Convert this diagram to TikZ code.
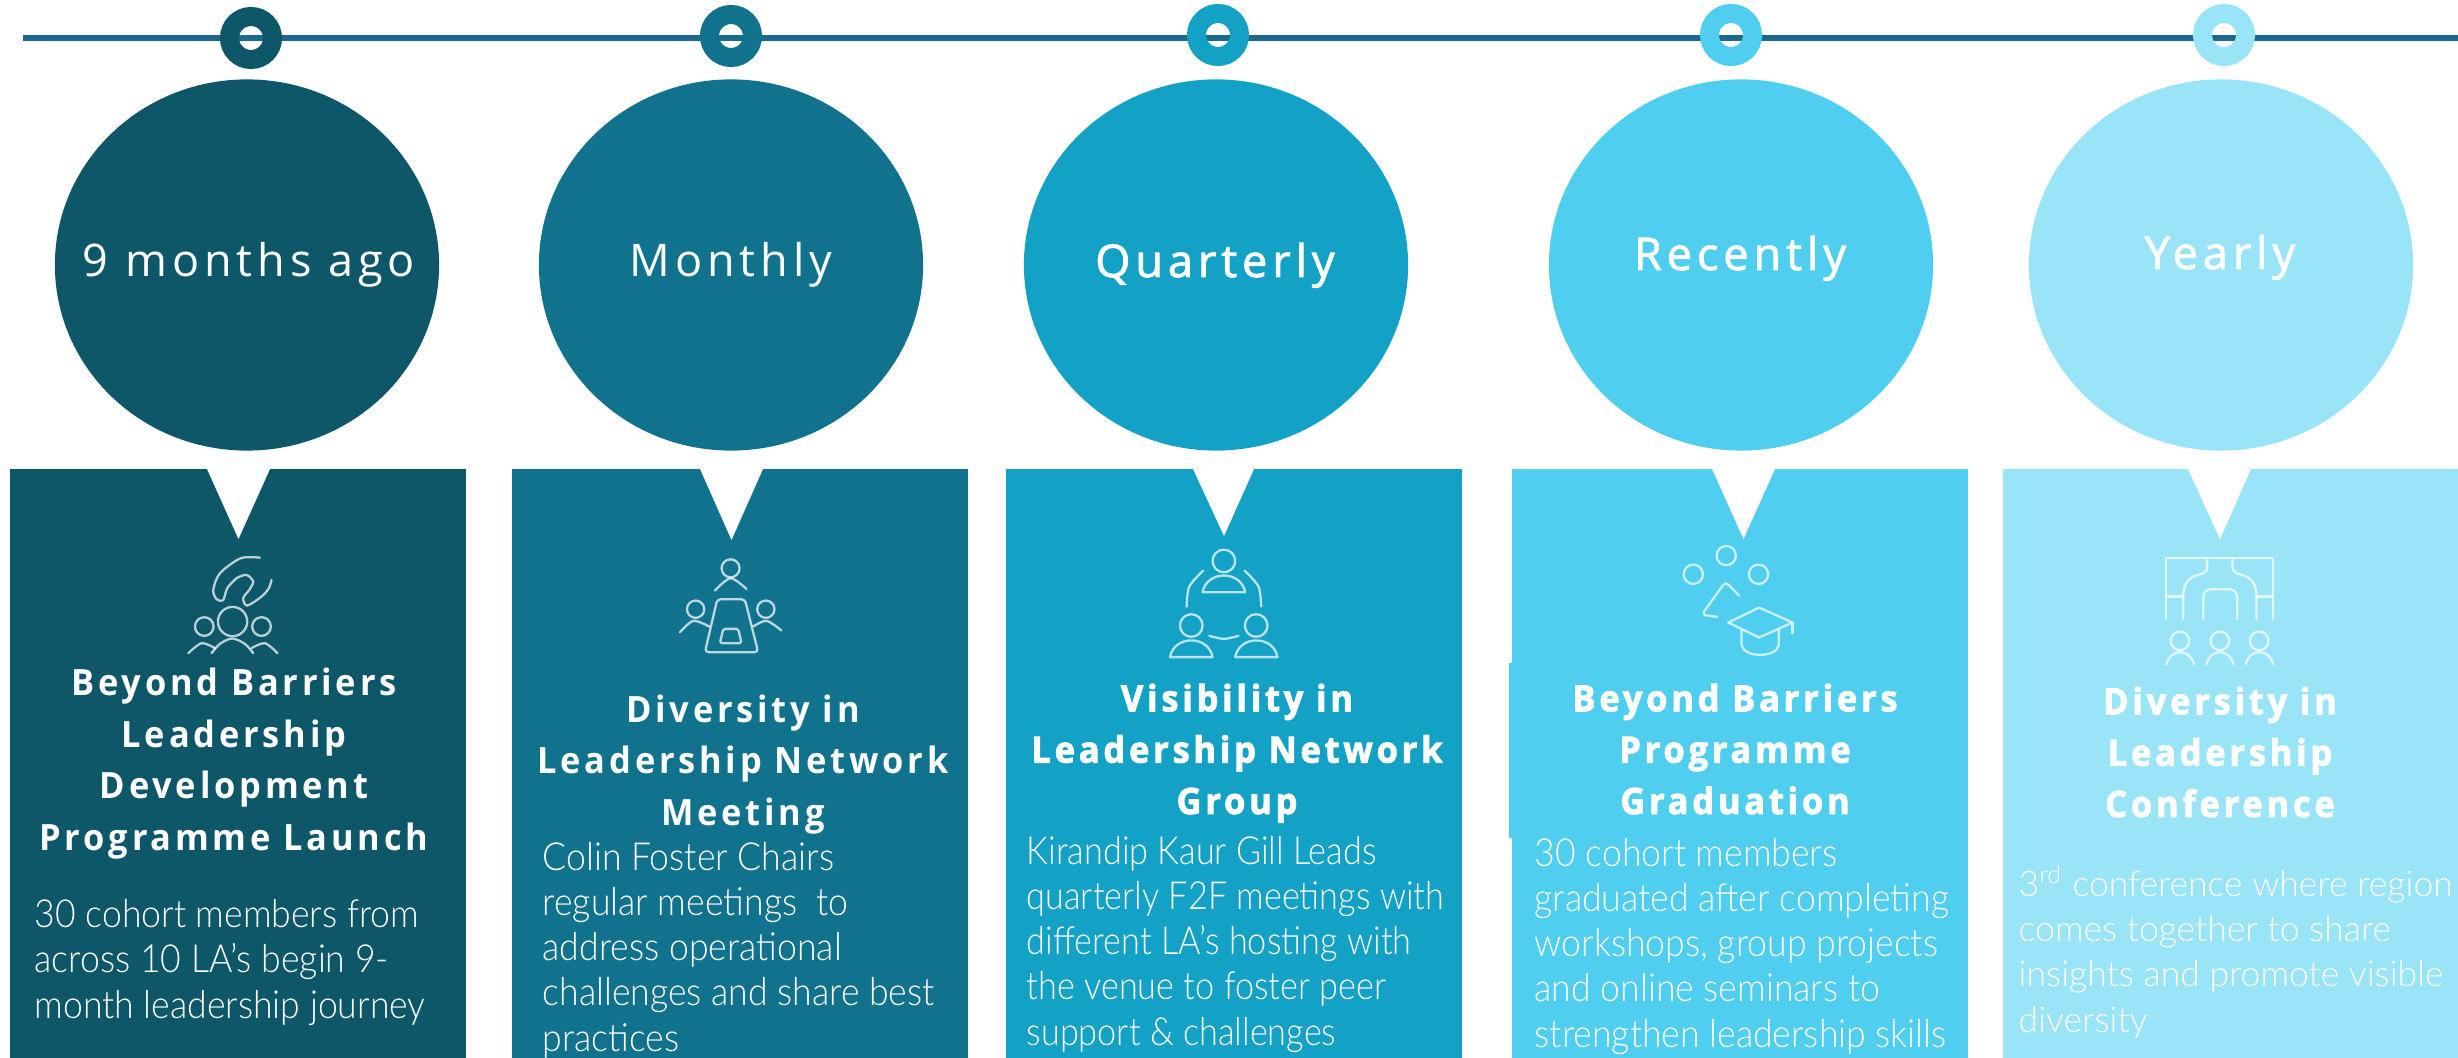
\documentclass[tikz,border=0pt]{standalone}
\usepackage{fontspec}
\usepackage{xcolor}
\usetikzlibrary{shapes.geometric}
\setmainfont{Lato Light}
\newfontfamily\bodyfont{Lato Light}[FakeStretch=0.92]
\newfontfamily\narrowfont{Lato Light}[FakeStretch=0.885]
\newfontfamily\widefont{Lato Light}
\newfontfamily\titlefont{Open Sans Bold}[FakeStretch=0.95,LetterSpace=10.5]
\newfontfamily\whenfont{Open Sans}[LetterSpace=11]
\definecolor{stepA}{HTML}{0D5769}
\definecolor{stepB}{HTML}{10728D}
\definecolor{stepC}{HTML}{13A1C5}
\definecolor{stepD}{HTML}{4FCEEF}
\definecolor{stepE}{HTML}{99E4F7}
\definecolor{railblue}{HTML}{1B6A8C}
\tikzset{
  ring/.style={circle,draw=#1,line width=0.19cm,minimum size=0.43cm,inner sep=0pt,outer sep=0pt},
  bubble/.style={ellipse,fill=#1,minimum width=3.84cm,minimum height=3.71cm,inner sep=0pt,outer sep=0pt},
  panel/.style={rectangle,fill=#1,anchor=north west,inner sep=0pt,outer sep=0pt},
  whenlabel/.style={anchor=base,text=white,inner sep=0pt,font=\whenfont\fontsize{12.8}{15}\selectfont},
  titlelabel/.style={anchor=base,text=white,inner sep=0pt,align=center,font=\titlefont\fontsize{10.3}{14.6}\selectfont},
  bodylabel/.style={anchor=base west,text=white,inner sep=0pt,align=left,font=\bodyfont\fontsize{11}{12.85}\selectfont},
  halo/.style={execute at begin node={\special{pdf:code 2 Tr 0.25 w #1 RG}},execute at end node={\special{pdf:code 0 Tr}}},
  iconline/.style={draw=white,draw opacity=0.72,line width=0.65pt,line cap=round,line join=round},
  icongrid/.style={x=0.003333cm,y=-0.003333cm}
}
\begin{document}
\begin{tikzpicture}[x=0.01cm,y=-0.01cm]
\useasboundingbox (0,0) rectangle (2458,1058);
% timeline
\coordinate (railstart) at (23,38);
\coordinate (railend) at (2458,38);
\draw[railblue,line width=0.055cm] (railstart)--(railend);
\node[ring=stepA] (ringA) at (251,38) {};
\node[ring=stepB] (ringB) at (731,36) {};
\node[ring=stepC] (ringC) at (1218,35) {};
\node[ring=stepD] (ringD) at (1731,35) {};
\node[ring=stepE] (ringE) at (2224,35) {};
% bubbles
\node[bubble=stepA] (bubbleA) at (247,265) {};
\node[bubble=stepB] (bubbleB) at (731,265) {};
\node[bubble=stepC] (bubbleC) at (1216,265) {};
\node[bubble=stepD] (bubbleD) at (1741,265) {};
\node[bubble=stepE] (bubbleE) at (2221,265) {};
\node[whenlabel] (whenA) at (249,277) {9 months ago};
\node[whenlabel] (whenB) at (731,277) {Monthly};
\node[whenlabel,halo={0.45 0.8 0.9}] (whenC) at (1215,277) {Quarterly};
\node[whenlabel,halo={0.55 0.85 0.95}] (whenD) at (1740,270) {Recently};
\node[whenlabel,halo={0.55 0.85 0.95}] (whenE) at (2220,269) {Yearly};
% panels
\node[panel=stepA,minimum width=4.56cm,minimum height=5.89cm] (panelA) at (10,469) {};
\node[panel=stepB,minimum width=4.56cm,minimum height=5.89cm] (panelB) at (512,469) {};
\node[panel=stepC,minimum width=4.56cm,minimum height=5.89cm] (panelC) at (1006,469) {};
\node[panel=stepD,minimum width=4.56cm,minimum height=5.89cm] (panelD) at (1512,469) {};
\node[panel=stepD,minimum width=4.59cm,minimum height=1.75cm] (panelDtext) at (1509,663) {};
\node[panel=stepE,minimum width=4.55cm,minimum height=5.89cm] (panelE) at (2003,469) {};
% notches
\fill[white] (207,469)--(270,469)--(238.5,539)--cycle;
\fill[white] (700,469)--(763,469)--(731.5,540)--cycle;
\fill[white] (1193,469)--(1254,469)--(1224,536)--cycle;
\fill[white] (1712,469)--(1775,469)--(1743.5,539)--cycle;
\fill[white] (2188,469)--(2251,469)--(2220,539)--cycle;
% icon hand over group
\begin{scope}[shift={(170,540)},icongrid]
\draw[iconline] plot[smooth] coordinates {(270,53) (212,55) (150,100) (130,150) (140,178) (160,180) (172,145) (200,115) (230,105) (250,125) (238,150) (220,175) (232,197) (275,170) (297,145) (305,120)};
\draw[iconline] (188,245) circle (44) (103,260) circle (28) (275,260) circle (28);
\draw[iconline] plot[smooth] coordinates {(125,340) (150,312) (187,296) (225,312) (250,340)};
\draw[iconline] plot[smooth] coordinates {(55,340) (95,310) (135,325)};
\draw[iconline] plot[smooth] coordinates {(245,325) (285,310) (323,340)};
\end{scope}
% icon table
\begin{scope}[shift={(660,545)},icongrid]
\draw[iconline] (212,70) circle (27) (107,193) circle (26) (318,193) circle (26);
\draw[iconline] plot[smooth] coordinates {(165,137) (212,100) (260,132)};
\draw[iconline] plot[smooth] coordinates {(60,262) (100,228) (148,245)};
\draw[iconline] plot[smooth] coordinates {(280,245) (320,228) (365,257)};
\draw[iconline,rounded corners=1pt] (172,163)--(255,163)--(295,322)--(135,322)--cycle;
\draw[iconline,rounded corners=0.5pt] (190,252)--(235,252)--(245,295)--(180,295)--cycle;
\end{scope}
% icon circle of people
\begin{scope}[shift={(1150,535)},icongrid]
\draw[iconline] (222,78) circle (34) (124,272) circle (34) (319,272) circle (34);
\draw[iconline] (158,172) .. controls (170,105) and (274,105) .. (286,172)--cycle;
\draw[iconline] (60,367) .. controls (72,300) and (176,300) .. (188,367)--cycle;
\draw[iconline] (256,367) .. controls (268,300) and (371,300) .. (383,367)--cycle;
\draw[iconline] plot[smooth] coordinates {(110,215) (118,155) (160,107)};
\draw[iconline] plot[smooth] coordinates {(334,215) (326,155) (284,107)};
\draw[iconline] plot[smooth] coordinates {(178,303) (222,312) (266,303)};
\end{scope}
% icon graduation
\begin{scope}[shift={(1660,535)},icongrid]
\draw[iconline] (199,62) circle (29) (100,118) circle (29) (296,118) circle (29);
\draw[iconline,rounded corners=1.2pt] (238,183)--(197,140)--(125,240)--(172,246);
\draw[iconline] (205,263)--(298,218)--(398,263)--(298,308)--cycle;
\draw[iconline] (398,263)--(398,295);
\draw[iconline] (245,285)--(245,330) .. controls (250,370) and (352,370) .. (357,330)--(357,285);
\end{scope}
% icon conference hall
\begin{scope}[shift={(2150,545)},icongrid]
\draw[iconline] (48,222)--(48,40)--(370,40)--(370,222);
\draw[iconline] (172,40)--(172,65) .. controls (172,82) and (160,85) .. (150,88) .. controls (115,95) and (100,120) .. (100,150)--(100,222);
\draw[iconline] (248,40)--(248,65) .. controls (248,82) and (260,85) .. (270,88) .. controls (305,95) and (320,120) .. (320,150)--(320,222);
\draw[iconline] (48,155)--(100,155) (320,155)--(370,155);
\draw[iconline] (160,222)--(160,160) .. controls (160,140) and (170,133) .. (185,133)--(237,133) .. controls (252,133) and (262,140) .. (262,160)--(262,222);
\draw[iconline] (90,288) circle (28) (210,288) circle (28) (328,288) circle (28);
\draw[iconline] (50,358) .. controls (60,310) and (120,310) .. (132,358);
\draw[iconline] (170,358) .. controls (180,310) and (240,310) .. (250,358);
\draw[iconline] (288,358) .. controls (298,310) and (360,310) .. (370,358);
\end{scope}
% titles
\node[titlelabel] (titleA) at (234,850) {Beyond Barriers\\Leadership\\Development\\Programme Launch};
\node[titlelabel] (titleB) at (743,825) {Diversity in\\Leadership Network\\Meeting};
\node[titlelabel,halo={0.3 0.72 0.85}] (titleC) at (1237,814) {Visibility in\\Leadership Network\\Group};
\node[titlelabel,halo={0.3 0.7 0.85}] (titleD) at (1735,814) {Beyond Barriers\\Programme\\Graduation};
\node[titlelabel,halo={0.4 0.72 0.85}] (titleE) at (2220,817) {Diversity in\\Leadership\\Conference};
% text
\node[bodylabel] (bodyA) at (34,1018) {30 cohort members from\\across 10 LA’s begin 9-\\month leadership journey};
\node[bodylabel] (bodyB) at (542,1051) {Colin Foster Chairs\\regular meetings\ \ to\\address operational\\challenges and share best\\practices};
\node[bodylabel,font=\narrowfont\fontsize{11}{12.85}\selectfont] (bodyC) at (1026,1045) {Kirandip Kaur Gill Leads\\quarterly F2F meetings with\\different LA’s hosting with\\the venue to foster peer\\support \& challenges};
\node[bodylabel] (bodyD) at (1534,1047) {30 cohort members\\graduated after completing\\workshops, group projects\\and online seminars to\\strengthen leadership skills};
\node[bodylabel,font=\widefont\fontsize{10.1}{12.85}\selectfont] (bodyE) at (2018,1032) {3\textsuperscript{rd} conference where region\\comes together to share\\insights and promote visible\\diversity};
\end{tikzpicture}
\end{document}
